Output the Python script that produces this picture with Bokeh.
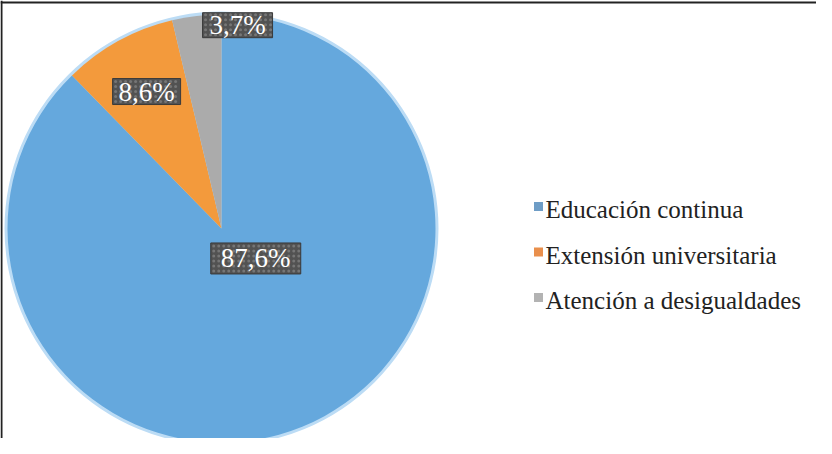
import numpy as np
from bokeh.plotting import figure
from bokeh.models import Span
from bokeh.core.properties import value
from bokeh.embed import file_html
from bokeh.resources import INLINE

# ---- data ----
categories = ["Educación continua", "Extensión universitaria", "Atención a desigualdades"]
percentages = [87.6, 8.6, 3.7]
label_texts = ["87,6%", "8,6%", "3,7%"]
colors = ["#65A8DD", "#F39A3C", "#ABABAB"]
legend_colors = ["#6E9DC6", "#E98F4C", "#B3B3B3"]

# ---- layout (pixel-like data coordinates) ----
W, H = 816, 438
CX, CY, R = 221, 210, 214
# label anchor offsets in radius units (Excel best-fit placement)
label_offsets = [(0.16, -0.14), (-0.35, 0.64), (0.075, 0.95)]
label_box = [(90, 31), (68, 26), (70, 25)]

vals = np.array(percentages)
frac = vals / vals.sum()
cum = np.concatenate([[0], np.cumsum(frac)])
start = np.pi / 2 - 2 * np.pi * cum[:-1]
end = np.pi / 2 - 2 * np.pi * cum[1:]

p = figure(width=W, height=H, x_range=(0, W), y_range=(0, H),
           x_axis_type=None, y_axis_type=None, toolbar_location=None,
           output_backend="svg", min_border=0)
p.grid.visible = False
p.outline_line_color = None

# light halo around the pie
p.circle(x=[CX], y=[CY], radius=R + 3, fill_color="#BCDCF5", line_color=None)

for s, e, c in zip(start, end, colors):
    p.wedge(x=[CX], y=[CY], radius=R, start_angle=float(s), end_angle=float(e), direction="clock",
            fill_color=c, line_color=None)

# data labels with dark dotted boxes
for (dx, dy), (bw, bh), t in zip(label_offsets, label_box, label_texts):
    x0, y0 = CX + dx * R, CY + dy * R
    p.rect(x=[x0], y=[y0], width=bw, height=bh, fill_color="#525252", line_color="#3A3A3A")
    gx, gy = np.meshgrid(np.arange(x0 - bw / 2 + 3, x0 + bw / 2 - 1, 5),
                         np.arange(y0 - bh / 2 + 3, y0 + bh / 2 - 1, 5))
    p.scatter(x=gx.ravel().tolist(), y=gy.ravel().tolist(), size=3, fill_color="#767676",
              line_color=None)
    p.text(x=[x0], y=[y0], text=[t], text_color="white", text_align="center",
           text_baseline="middle", text_font=value("Liberation Serif"), text_font_size="27px")

# legend (manual)
LX, LY0, PITCH = 538, 232, 45.5
for i, (cat, c) in enumerate(zip(categories, legend_colors)):
    yy = LY0 - i * PITCH
    p.scatter(x=[LX], y=[yy], marker="square", size=9, fill_color=c, line_color=None)
    p.text(x=[LX + 7], y=[yy], text=[cat], text_color="#222222", text_align="left",
           text_baseline="middle", text_font=value("Liberation Serif"), text_font_size="25px",
           y_offset=3)

# frame lines (top and left only)
p.add_layout(Span(location=H - 2, dimension="width", line_color="#222222", line_width=2))
p.add_layout(Span(location=1, dimension="height", line_color="#222222", line_width=2))

open("out.html", "w").write(file_html(p, INLINE))
